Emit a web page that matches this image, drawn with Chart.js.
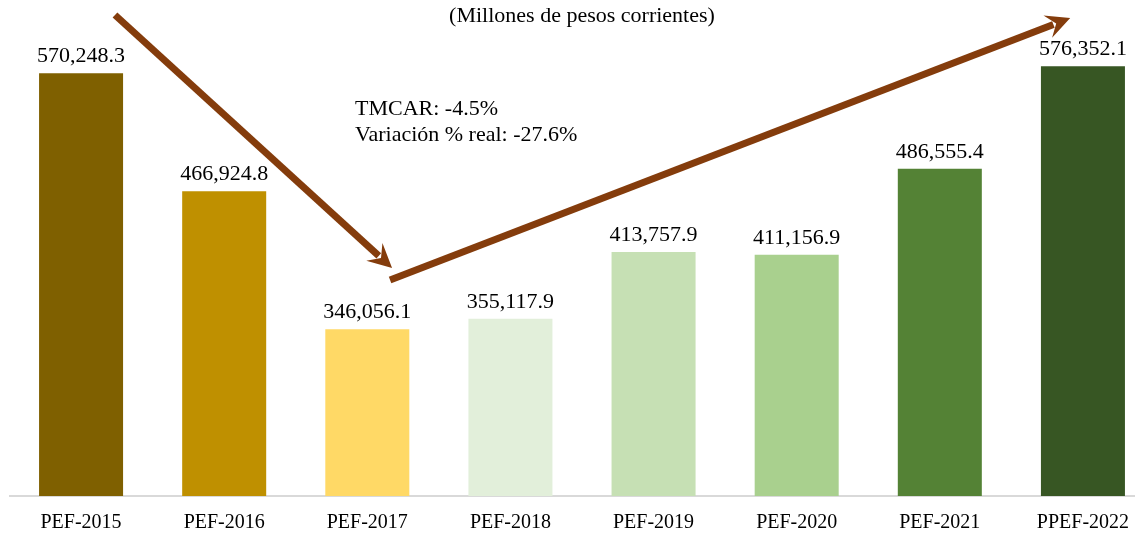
<!DOCTYPE html>
<html>
<head>
<meta charset="utf-8">
<script src="https://cdn.jsdelivr.net/npm/chart.js@4"></script>
<style>
  html, body { margin: 0; padding: 0; background: #fff; overflow: hidden; height: 535px; }
  #wrap { width: 1160px; height: 551px; }
</style>
</head>
<body>
<div id="wrap"><canvas id="gasto-chart"></canvas></div>
<script>
const categories = ['PEF-2015', 'PEF-2016', 'PEF-2017', 'PEF-2018', 'PEF-2019', 'PEF-2020', 'PEF-2021', 'PPEF-2022'];
const values = [570248.3, 466924.8, 346056.1, 355117.9, 413757.9, 411156.9, 486555.4, 576352.1];
const barColors = ['#7F6000', '#BF9000', '#FFD966', '#E2EFDA', '#C6E0B4', '#A9D08E', '#548235', '#375623'];
const subtitle = '(Millones de pesos corrientes)';
const notes = ['TMCAR: -4.5%', 'Variación % real: -27.6%'];

// arrows in chart units: [category index, value]
const arrows = [
  { from: [0.237, 621200], to: [2.173, 399650] },
  { from: [2.159, 389140], to: [6.911, 618560] },
];

const serif = '"Liberation Serif", "DejaVu Serif", serif';

const valueLabels = {
  id: 'valueLabels',
  afterDatasetsDraw(chart) {
    const ctx = chart.ctx;
    const meta = chart.getDatasetMeta(0);
    ctx.save();
    ctx.font = '22px ' + serif;
    ctx.fillStyle = '#000';
    ctx.textAlign = 'center';
    ctx.textBaseline = 'alphabetic';
    meta.data.forEach((bar, i) => {
      const txt = values[i].toLocaleString('en-US', { minimumFractionDigits: 1, maximumFractionDigits: 1 });
      ctx.fillText(txt, bar.x, bar.y - 11);
    });
    ctx.restore();
  }
};

const annotations = {
  id: 'annotations',
  afterDraw(chart) {
    const ctx = chart.ctx;
    const xs = chart.scales.x, ys = chart.scales.y;
    ctx.save();
    ctx.strokeStyle = '#843C0C';
    ctx.fillStyle = '#843C0C';
    ctx.lineWidth = 7;
    arrows.forEach(a => {
      const x1 = xs.getPixelForValue(a.from[0]), y1 = ys.getPixelForValue(a.from[1]);
      const x2 = xs.getPixelForValue(a.to[0]), y2 = ys.getPixelForValue(a.to[1]);
      const ang = Math.atan2(y2 - y1, x2 - x1);
      const head = 24, half = 12;
      const bx = x2 - head * Math.cos(ang), by = y2 - head * Math.sin(ang);
      ctx.beginPath();
      ctx.moveTo(x1, y1);
      ctx.lineTo(x2 - (head - 6) * Math.cos(ang), y2 - (head - 6) * Math.sin(ang));
      ctx.stroke();
      ctx.beginPath();
      ctx.moveTo(x2, y2);
      ctx.lineTo(bx + half * Math.sin(ang), by - half * Math.cos(ang));
      ctx.lineTo(x2 - (head - 9) * Math.cos(ang), y2 - (head - 9) * Math.sin(ang));
      ctx.lineTo(bx - half * Math.sin(ang), by + half * Math.cos(ang));
      ctx.closePath();
      ctx.fill();
    });

    // TMCAR text
    ctx.fillStyle = '#000';
    ctx.font = '22px ' + serif;
    ctx.textAlign = 'left';
    const tx = xs.getPixelForValue(1.914);
    const ty = ys.getPixelForValue(533600);
    ctx.fillText(notes[0], tx, ty);
    ctx.fillText(notes[1], tx, ty + 26);
    ctx.restore();
  }
};

new Chart(document.getElementById('gasto-chart'), {
  type: 'bar',
  data: {
    labels: categories,
    datasets: [{
      data: values,
      backgroundColor: barColors,
      borderWidth: 0,
      barPercentage: 0.587,
      categoryPercentage: 1,
    }],
  },
  options: {
    responsive: true,
    maintainAspectRatio: false,
    animation: false,
    layout: { padding: { left: 9.5, right: 5.5, top: 0, bottom: 1 } },
    plugins: {
      legend: { display: false },
      tooltip: { enabled: false },
      title: {
        display: true,
        text: subtitle,
        color: '#000',
        font: { family: serif, size: 22, weight: 'normal', lineHeight: 1.1 },
        padding: { top: 4, bottom: 11 },
      },
    },
    scales: {
      x: {
        grid: { display: false, drawTicks: false },
        border: { display: true, color: '#D9D9D9', width: 2 },
        ticks: { color: '#000', font: { family: serif, size: 20 }, padding: 15 },
      },
      y: {
        display: false,
        min: 200000,
        max: 600000,
      },
    },
  },
  plugins: [valueLabels, annotations],
});
</script>
</body>
</html>
